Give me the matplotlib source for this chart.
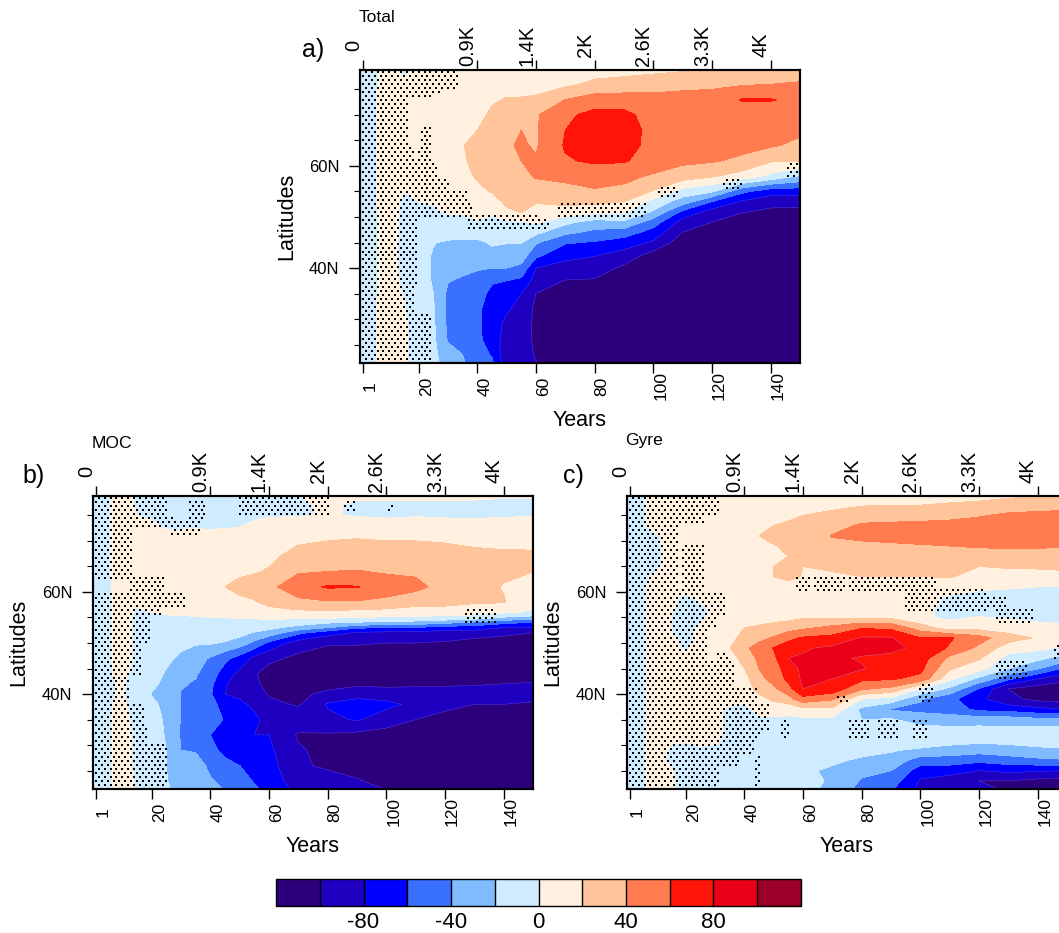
import matplotlib

matplotlib.use("Agg")
import matplotlib.pyplot as plt
import numpy as np
from matplotlib.colors import BoundaryNorm, ListedColormap

plt.rcParams["font.family"] = ["Liberation Sans", "DejaVu Sans"]

W, H = 1059, 933

levels = list(range(-120, 121, 20))
colors = ["#2c007d", "#2000c0", "#0000ff", "#3a70ff", "#80bbff", "#cfebff",
          "#fff0e0", "#ffc49a", "#ff7b50", "#ff1508", "#eb0018", "#9a0028"]

year_ticks = [1, 20, 40, 60, 80, 100, 120, 140]
top_ticks = [1, 40, 60, 80, 100, 120, 140]
top_labels = ["0", "0.9K", "1.4K", "2K", "2.6K", "3.3K", "4K"]
years = [0, 5, 10, 15, 20, 25, 30, 35, 40, 45, 50, 55, 60, 70, 80, 90, 100, 110, 120, 130, 140, 150]

total_lats = [79, 76, 73, 70, 67, 64, 61, 58, 55, 53, 51, 49, 47, 45, 42.5, 40, 37.5, 35, 32, 29, 26, 23, 21]
total = [  # one list per year, north to south
    [-6, -6, -6, -6, -6, -6, -6, -6, -6, -6, -6, -6, -6, -6, -6, -6, -6, -6, -6, -6, -6, -6, -6],
    [-1, -1, -1, -1, -1, -1, -1, -1, -1, -1, -1, -1, -1, -1, -1, -1, -1, -1, -1, -1, -1, -1, -1],
    [5, 5, 6, 8, 8, 8, 8, 7, 6, 6, 5, 5, 5, 4, 4, 4, 4, 5, 6, 7, 7, 7, 7],
    [-3, 2, 6, 8, 10, 10, 8, 4, 0, -2, -3, -3, -3, -3, -3, -3, -2, -1, 1, 3, 3, 3, 3],
    [3, 6, 10, 12, 14, 14, 10, 5, 2, 0, -3, -5, -8, -10, -10, -10, -10, -10, -10, -9, -9, -9, -9],
    [6, 10, 12, 15, 16, 16, 14, 10, 4, 1, -2, -6, -12, -19, -22, -22, -22, -20, -18, -17, -16, -15, -14],
    [4, 12, 14, 15, 16, 16, 16, 12, 6, 3, 1, -3, -10, -23, -28, -32, -39, -44, -45, -44, -42, -32, -28],
    [12, 14, 16, 17, 18, 19, 17, 12, 7, 3, 1, -3, -12, -24, -29, -35, -43, -48, -50, -50, -47, -40, -38],
    [9, 11, 13, 15, 20, 27, 27, 23, 13, 7, 3, -1, -10, -25, -33, -38, -48, -52, -56, -56, -55, -50, -48],
    [10, 14, 18, 23, 30, 36, 34, 26, 22, 8, 2, -3, -10, -17, -28, -40, -58, -65, -70, -72, -70, -62, -55],
    [12, 15, 21, 30, 38, 38, 36, 32, 26, 26, 15, -3, -12, -19, -30, -40, -60, -68, -78, -84, -88, -95, -90],
    [12, 15, 21, 32, 40, 42, 40, 34, 28, 24, 21, -2, -10, -19, -30, -45, -65, -80, -85, -88, -88, -85, -82],
    [12, 15, 22, 38, 38, 38, 42, 42, 30, 22, 10, 3, -15, -38, -55, -80, -88, -100, -105, -105, -105, -103, -98],
    [10, 16, 40, 56, 60, 62, 58, 46, 32, 25, 12, -15, -35, -58, -76, -85, -101, -112, -115, -115, -115, -115, -115],
    [12, 24, 50, 66, 68, 68, 63, 48, 38, 25, 5, -28, -45, -62, -79, -90, -102, -114, -116, -116, -116, -116, -116],
    [13, 27, 50, 65, 66, 66, 62, 44, 36, 20, 3, -24, -50, -70, -88, -104, -115, -116, -116, -116, -116, -116, -116],
    [15, 30, 48, 52, 56, 55, 50, 38, 18, -7, -23, -50, -68, -83, -108, -115, -117, -117, -117, -117, -117, -117, -117],
    [17, 34, 48, 52, 55, 52, 44, 30, -8, -30, -65, -88, -100, -112, -115, -116, -117, -117, -117, -117, -117, -117, -117],
    [22, 36, 48, 56, 56, 50, 42, 22, -18, -60, -88, -100, -112, -116, -117, -117, -117, -117, -117, -117, -117, -117, -117],
    [24, 38, 61, 50, 48, 46, 36, 12, -55, -82, -98, -114, -116, -117, -117, -117, -117, -117, -117, -117, -117, -117, -117],
    [28, 40, 61, 52, 50, 42, 22, -5, -72, -92, -105, -115, -116, -117, -117, -117, -117, -117, -117, -117, -117, -117, -117],
    [30, 42, 56, 48, 43, 36, 21, -22, -72, -94, -105, -115, -116, -117, -117, -117, -117, -117, -117, -117, -117, -117, -117],
]
total_stipple = [  # lat_lo, lat_hi, year_lo, year_hi
    (75, 79, 0, 33), (74, 75, 0, 27), (73, 74, 0, 24), (64, 73, 0, 16), (64, 68, 21, 24), (61, 64, 0, 18),
    (61, 64, 20, 24), (58, 61, 0, 26), (55, 58, 0, 30), (53, 55, 0, 36), (51, 53, 0, 38), (50, 51, 0, 60),
    (47.5, 50, 37, 64), (36, 50, 0, 19), (31, 36, 0, 18), (21, 31, 0, 24), (50, 53, 68, 97),
    (54, 56.5, 102, 108), (55, 58, 124, 130), (58, 60.5, 146, 150),
]

moc_lats = [79, 77, 75, 73, 70, 67, 64, 61, 58, 56, 55, 54, 53, 52, 50, 47, 44, 42, 40, 38, 35, 32, 29, 26, 23, 21]
moc = [
    [-6] * 26,
    [-1] * 26,
    [4, 4, 4, 5, 5, 5, 4, 3, 3, 3, 3, 3, 3, 3, 3, 3, 2, 1, 1, 2, 3, 3, 3, 3, 3, 3],
    [-2, -1, 0, 2, 3, 4, 3, 2, 1, -1, -2, -2, -2, -2, -2, -2, -3, -4, -6, -5, -3, -2, -2, -2, -1, -1],
    [-2, -2, -1, 1, 3, 4, 5, 4, 2, 0, -1, -2, -3, -3, -5, -8, -12, -15, -21, -16, -12, -9, -7, -5, -4, -4],
    [-3, -4, -4, -1, 3, 5, 6, 6, 4, 1, -1, -3, -5, -6, -9, -16, -22, -26, -27, -25, -23, -22, -20, -20, -19, -18],
    [-3, -3, -5, -1, 3, 6, 8, 9, 7, 3, -2, -5, -8, -10, -15, -24, -30, -38, -41, -40, -41, -42, -40, -36, -30, -24],
    [-4, -5, -4, -1, 5, 8, 9, 10, 9, 4, -1, -4, -8, -11, -18, -32, -38, -42, -44, -44, -44, -42, -42, -30, -25, -20],
    [-4, -5, -5, -2, 5, 8, 10, 11, 10, 4, 0, -4, -7, -10, -18, -42, -50, -55, -58, -52, -48, -60, -55, -45, -38, -30],
    [-3, -4, -5, -1, 5, 10, 14, 20, 12, 5, 0, -4, -7, -10, -22, -55, -70, -78, -80, -70, -62, -65, -65, -55, -45, -40],
    [-3, -3, -4, -1, 6, 10, 16, 26, 15, 6, 1, -3, -8, -13, -30, -68, -85, -90, -85, -75, -72, -72, -65, -60, -50, -48],
    [-3, -3, -3, 3, 8, 12, 18, 30, 18, 8, 1, -3, -10, -22, -45, -85, -98, -95, -90, -85, -75, -80, -76, -70, -62, -55],
    [-3, -3, -1, 5, 10, 15, 22, 35, 26, 12, 3, -5, -15, -28, -65, -95, -108, -108, -102, -95, -88, -80, -76, -72, -70, -65],
    [0, -2, -1, 6, 17, 28, 38, 52, 35, 15, 3, -10, -28, -55, -90, -105, -110, -108, -105, -102, -88, -102, -98, -98, -90, -85],
    [3, 2, 1, 8, 20, 30, 40, 62, 38, 16, 3, -18, -40, -72, -98, -110, -113, -108, -95, -78, -85, -102, -105, -102, -95, -90],
    [2, -2, -1, 8, 22, 31, 41, 61, 38, 14, 0, -22, -58, -82, -98, -112, -115, -104, -88, -70, -78, -105, -112, -110, -98, -95],
    [1, -1, -3, 8, 20, 30, 38, 50, 35, 12, -2, -25, -60, -85, -100, -115, -115, -105, -90, -75, -90, -108, -115, -110, -110, -98],
    [1, -1, -1, 7, 20, 28, 37, 45, 28, 9, -3, -28, -62, -85, -100, -115, -115, -104, -90, -85, -100, -115, -116, -116, -116, -116],
    [1, -1, -2, 6, 19, 26, 30, 33, 26, 10, -5, -35, -70, -88, -102, -115, -114, -103, -90, -90, -112, -116, -116, -116, -116, -116],
    [1, -1, -3, 6, 17, 24, 25, 26, 22, 8, -8, -45, -70, -90, -108, -115, -114, -102, -90, -100, -113, -116, -116, -116, -116, -116],
    [1, -2, -1, 5, 16, 23, 23, 19, 21, 3, -22, -55, -80, -95, -110, -115, -113, -100, -88, -100, -114, -116, -116, -116, -116, -116],
    [1, -2, -1, 6, 14, 24, 20, 14, 8, -3, -28, -62, -82, -100, -112, -115, -112, -98, -85, -105, -115, -116, -116, -116, -116, -116],
]
moc_stipple = [
    (75, 79, 0, 25), (72.5, 75, 0, 27), (71, 74, 27, 36), (74, 78, 33, 38), (74.5, 79, 50, 80), (76, 78, 86, 89),
    (76, 77.5, 101, 102), (62, 72.5, 0, 13), (60, 63, 13, 24), (57, 60, 0, 31), (55, 57, 0, 23), (50, 55, 0, 19),
    (44, 50, 0, 16), (38, 44, 0, 12), (34, 38, 0, 17), (30, 34, 0, 18), (21, 30, 0, 25), (54, 57, 127, 137),
]

gyre_lats = [79, 77, 75, 73, 71, 69, 67, 65, 63, 61, 59, 57, 55, 53, 51, 49, 47, 45, 43, 41, 39, 37, 35, 33, 31, 29, 27, 25, 23, 21]
gyre = [
    [-6] * 30,
    [-1] * 30,
    [3, 3, 3, 3, -1, -1, -1, -1, 1, 2, 2, 2, 2, 2, 2, 2, 2, 2, 2, 2, 2, 2, 2, 2, 3, 3, 3, 3, 3, 3],
    [2, 3, 3, 3, 3, 2, 2, 2, 2, 2, 1, 1, 0, 0, 1, 2, 2, 2, 2, 2, 2, 2, 2, 1, 1, -1, -2, 1, 2, 2],
    [2, 3, 4, 4, 4, 4, 4, 3, 3, 2, -1, -3, -2, -2, -2, -1, 2, 2, 3, 3, 3, 2, 2, 3, 1, -3, -5, -6, -6, -6],
    [3, 5, 6, 6, 6, 6, 6, 5, 5, 4, 2, -2, -2, 1, 2, 3, 3, 3, 2, 2, 2, 1, 2, 3, 3, -2, -5, -5, -5, -5],
    [2, 4, 6, 7, 8, 8, 8, 8, 7, 6, 4, 2, 3, 5, 7, 8, 6, 5, 4, 3, 2, 1, 2, 3, 2, -2, -4, -4, -5, -5],
    [3, 5, 7, 8, 9, 9, 9, 9, 9, 8, 6, 6, 8, 12, 16, 19, 12, 8, 5, 3, 2, -1, -2, -3, -3, -4, -4, -4, -5, -5],
    [3, 5, 7, 9, 10, 10, 10, 10, 10, 9, 7, 8, 13, 20, 24, 36, 26, 20, 12, 5, 2, -2, -2, -3, -4, -6, -5, -6, -6, -6],
    [4, 6, 9, 14, 20, 15, 13, 13, 17, 11, 8, 7, 14, 22, 34, 48, 44, 40, 35, 28, 12, 2, -1, -3, -3, -3, -4, -5, -5, -5],
    [5, 8, 13, 20, 25, 19, 16, 20, 20, 12, 8, 8, 14, 26, 42, 61, 55, 50, 46, 36, 24, 5, -2, -3, -4, -5, -6, -8, -10, -25],
    [6, 10, 15, 24, 28, 23, 20, 24, 25, 12, 8, 8, 15, 30, 55, 70, 80, 70, 65, 52, 32, 5, -3, -5, -8, -8, -10, -10, -10, -10],
    [7, 12, 20, 24, 28, 25, 21, 20, 19, 8, 7, 9, 18, 36, 62, 78, 82, 85, 84, 80, 52, 14, -4, -8, -12, -16, -20, -18, -15, -18],
    [8, 15, 25, 32, 41, 35, 28, 22, 18, 6, 5, 8, 18, 45, 66, 84, 84, 82, 80, 72, 42, 15, -5, -5, -8, -14, -18, -22, -22, -22],
    [9, 19, 30, 43, 44, 36, 30, 25, 20, 8, 5, 8, 18, 58, 82, 88, 78, 82, 65, 42, 0, -25, -20, -10, -8, -16, -22, -35, -42, -50],
    [10, 20, 32, 44, 44, 38, 30, 26, 20, 10, 4, 6, 16, 55, 82, 88, 72, 68, 62, 35, -8, -42, -18, -8, -6, -18, -28, -40, -50, -58],
    [12, 20, 33, 45, 45, 39, 30, 26, 20, 12, 6, 3, 3, 30, 60, 72, 70, 65, 55, -2, -38, -45, -30, -12, -5, -24, -50, -70, -82, -85],
    [13, 22, 34, 47, 47, 40, 32, 28, 21, 8, -2, -3, -3, 8, 62, 58, 35, 22, 5, -25, -55, -50, -30, -15, -12, -28, -50, -72, -90, -88],
    [14, 24, 38, 50, 50, 42, 30, 20, 15, 3, -5, -8, 1, 12, 48, 35, 22, 8, -25, -62, -75, -65, -30, -14, -14, -32, -55, -80, -100, -92],
    [16, 28, 44, 52, 52, 44, 28, 22, 12, 2, -8, -5, -2, 10, 28, 10, -8, -20, -55, -100, -95, -68, -30, -15, -14, -28, -50, -75, -100, -102],
    [18, 30, 46, 54, 54, 44, 26, 22, 14, 0, -8, -8, -4, 5, 18, 5, -15, -38, -80, -110, -105, -75, -35, -14, -12, -24, -45, -78, -105, -108],
    [20, 32, 48, 54, 54, 42, 26, 24, 14, 0, -8, -10, -6, 3, 12, -5, -30, -65, -95, -115, -110, -78, -36, -14, -12, -22, -42, -80, -108, -112],
]
gyre_stipple = [
    (75, 79, 0, 31), (73, 75, 0, 26), (60, 73, 0, 17), (60, 69, 19, 26), (55, 60, 0, 33), (53, 55, 0, 30),
    (47, 53, 0, 27), (45, 48, 31, 34), (41, 47, 0, 36), (38, 41, 0, 44), (33, 38, 0, 48), (31, 33, 0, 45),
    (28, 31, 0, 43), (26, 28, 0, 38), (21, 26, 0, 31), (21, 28, 44, 45), (60, 63, 58, 62), (60, 63, 64, 74),
    (60, 63, 76, 105), (56, 61, 95, 122), (57, 59, 120, 129), (54, 57, 126, 138), (43, 47, 126, 136),
    (38.5, 42, 100, 104), (38, 40, 72, 75), (31, 35, 53, 55), (31, 35, 76, 82), (31, 35, 86, 92),
    (31, 35, 98, 102), (47, 50, 146, 150),
]


def px_axes(fig, left, top, right, bottom):
    return fig.add_axes([left / W, 1 - bottom / H, (right - left) / W, (bottom - top) / H])


def stipple_points(regions):
    # checker lattice, the dots of the significance mask
    xs, ys = [], []
    for j, lat in enumerate(np.arange(21.4, 79, 0.78)):
        for yr in np.arange(1 + j % 2, 150, 2):
            if any(a <= lat <= b and c <= yr <= d for a, b, c, d in regions):
                xs.append(yr)
                ys.append(lat)
    return xs, ys


def panel(fig, box, lats, values, regions):
    ax = px_axes(fig, *box)
    z = np.array(values, dtype=float).T
    ax.contourf(years, lats, z, levels=levels, colors=colors)
    ax.contour(years, lats, z, levels=[-100, -80], colors="#6a4fb0", linewidths=0.4)
    ax.contour(years, lats, z, levels=[80], colors="#f0607a", linewidths=0.4)
    xs, ys = stipple_points(regions)
    ax.plot(xs, ys, "s", ms=1.6, mew=0, color="k")
    ax.set_xlim(0, 150)
    ax.set_ylim(21.4, 78.8)

    ax.set_xticks(year_ticks)
    ax.set_xticklabels(year_ticks, rotation=90, fontsize=12.5, va="center", ha="left")
    ax.tick_params(axis="x", length=7.5, width=1, pad=9)
    ax.set_yticks([40, 60])
    ax.set_yticklabels(["40N", "60N"], fontsize=12)
    ax.set_yticks(np.arange(25, 76, 5), minor=True)
    ax.tick_params(axis="y", which="major", length=8, width=1, pad=7)
    ax.tick_params(axis="y", which="minor", length=4, width=0.8)

    top = ax.twiny()
    top.set_xlim(0, 150)
    top.set_xticks(top_ticks)
    top.set_xticklabels(top_labels, rotation=90, fontsize=14.4, va="center", ha="right")
    top.tick_params(axis="x", length=7.5, width=1, pad=10.5)
    for a in (ax, top):
        for s in a.spines.values():
            s.set_linewidth(1.5)
    return ax


def px_text(fig, x, y, s, size, **kw):
    fig.text(x / W, 1 - y / H, s, fontsize=size, va="center", **kw)


fig = plt.figure(figsize=(W / 100, H / 100), dpi=100)

panel(fig, (360, 70, 800, 363), total_lats, total, total_stipple)
panel(fig, (93, 496, 533, 789), moc_lats, moc, moc_stipple)
panel(fig, (627, 496, 1067, 789), gyre_lats, gyre, gyre_stipple)

px_text(fig, 302, 50, "a)", 18)
px_text(fig, 22, 476, "b)", 18)
px_text(fig, 563, 476, "c)", 18)
px_text(fig, 359, 18, "Total", 12.6)
px_text(fig, 92, 444, "MOC", 12.6)
px_text(fig, 625, 441, "Gyre", 12.6)
for x, y in [(580, 421), (313, 847), (847, 847)]:
    px_text(fig, x, y, "Years", 15.5, ha="center")
for x, y in [(287, 216), (19, 642), (553, 642)]:
    px_text(fig, x, y, "Latitudes", 15.5, ha="center", rotation=90)

cax = px_axes(fig, 276, 879, 801, 906)
cb = fig.colorbar(plt.cm.ScalarMappable(norm=BoundaryNorm(levels, 12), cmap=ListedColormap(colors)),
                  cax=cax, orientation="horizontal", drawedges=True, ticks=[-80, -40, 0, 40, 80])
cb.ax.set_xticklabels(["-80", "-40", "0", "40", "80"])
cb.ax.minorticks_off()
cb.ax.tick_params(length=0, labelsize=16, pad=4)
cb.dividers.set_linewidth(1)
cb.outline.set_linewidth(1)

fig.savefig("out.png", dpi=100)
